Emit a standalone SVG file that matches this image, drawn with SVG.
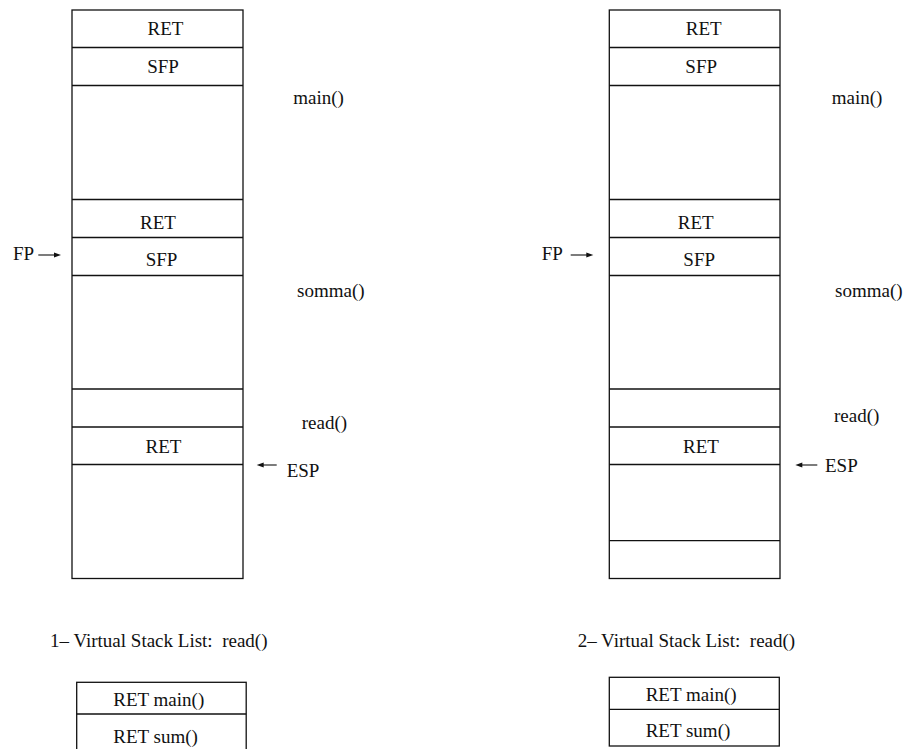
<svg xmlns="http://www.w3.org/2000/svg" width="904" height="749" viewBox="0 0 904 749">
  <style>
    .box { fill: none; stroke: #111; stroke-width: 1.3; }
    .sep { stroke: #111; stroke-width: 1.3; }
    .ptr { stroke: #111; stroke-width: 1.1; fill: none; }
    .head { fill: #111; }
    text { font-family: 'Liberation Serif', serif; font-size: 19px; fill: #111; white-space: pre; }
    .c { text-anchor: middle; }
  </style>
  <rect width="904" height="749" fill="#fff"/>

  <!-- Stack 1 -->
  <g id="stack1">
    <rect class="box" x="72" y="10" width="171" height="568.5"/>
    <line class="sep" x1="72" y1="47.5" x2="243" y2="47.5"/>
    <line class="sep" x1="72" y1="85.5" x2="243" y2="85.5"/>
    <line class="sep" x1="72" y1="199.5" x2="243" y2="199.5"/>
    <line class="sep" x1="72" y1="237.5" x2="243" y2="237.5"/>
    <line class="sep" x1="72" y1="275.5" x2="243" y2="275.5"/>
    <line class="sep" x1="72" y1="389" x2="243" y2="389"/>
    <line class="sep" x1="72" y1="427" x2="243" y2="427"/>
    <line class="sep" x1="72" y1="464.5" x2="243" y2="464.5"/>
    <text class="c" x="165.5" y="34.5">RET</text>
    <text class="c" x="163" y="72.5">SFP</text>
    <text class="c" x="158" y="228.5">RET</text>
    <text class="c" x="161.5" y="265.5">SFP</text>
    <text class="c" x="163.5" y="452.5">RET</text>
    <text x="293.3" y="104">main()</text>
    <text x="297" y="296.5">somma()</text>
    <text x="301.7" y="429">read()</text>
    <text x="13" y="260">FP</text>
    <text x="286.7" y="476.5">ESP</text>
  </g>

  <!-- Stack 2 -->
  <g id="stack2">
    <rect class="box" x="609.3" y="10" width="170.7" height="568.5"/>
    <line class="sep" x1="609.3" y1="47.5" x2="780" y2="47.5"/>
    <line class="sep" x1="609.3" y1="85.5" x2="780" y2="85.5"/>
    <line class="sep" x1="609.3" y1="199.5" x2="780" y2="199.5"/>
    <line class="sep" x1="609.3" y1="237.5" x2="780" y2="237.5"/>
    <line class="sep" x1="609.3" y1="275.5" x2="780" y2="275.5"/>
    <line class="sep" x1="609.3" y1="389" x2="780" y2="389"/>
    <line class="sep" x1="609.3" y1="427" x2="780" y2="427"/>
    <line class="sep" x1="609.3" y1="464.5" x2="780" y2="464.5"/>
    <line class="sep" x1="609.3" y1="540.7" x2="780" y2="540.7"/>
    <text class="c" x="703.7" y="34.5">RET</text>
    <text class="c" x="701.2" y="72.5">SFP</text>
    <text class="c" x="695.8" y="228.5">RET</text>
    <text class="c" x="699.2" y="265.5">SFP</text>
    <text class="c" x="701" y="452.5">RET</text>
    <text x="831.7" y="104">main()</text>
    <text x="835" y="296.5">somma()</text>
    <text x="834" y="421.5">read()</text>
    <text x="541.7" y="260">FP</text>
    <text x="825" y="471.5">ESP</text>
  </g>

  <!-- Virtual stack lists -->
  <g id="list1">
    <text x="50" y="646.5" xml:space="preserve">1– Virtual Stack List:  read()</text>
    <rect class="box" x="76.7" y="682.3" width="169.5" height="80"/>
    <line class="sep" x1="76.7" y1="714" x2="246.2" y2="714"/>
    <text x="113.3" y="706">RET main()</text>
    <text x="113.3" y="743.3">RET sum()</text>
  </g>
  <g id="list2">
    <text x="577.7" y="646.5" xml:space="preserve">2– Virtual Stack List:  read()</text>
    <rect class="box" x="609.3" y="677.3" width="170" height="68.7"/>
    <line class="sep" x1="609.3" y1="709.3" x2="779.3" y2="709.3"/>
    <text x="645.7" y="701">RET main()</text>
    <text x="645.7" y="737.3">RET sum()</text>
  </g>

  <!-- Pointer arrows -->
  <g id="connectors">
    <line class="ptr" x1="38.3" y1="255" x2="56" y2="255"/>
    <polygon class="head" points="61,255 54,252.6 54,257.4"/>
    <line class="ptr" x1="570.7" y1="255" x2="588.5" y2="255"/>
    <polygon class="head" points="593.3,255 586.3,252.6 586.3,257.4"/>
    <line class="ptr" x1="276.7" y1="465" x2="261.5" y2="465"/>
    <polygon class="head" points="256.7,465 263.7,462.6 263.7,467.4"/>
    <line class="ptr" x1="817.3" y1="465" x2="800" y2="465"/>
    <polygon class="head" points="795.3,465 802.3,462.6 802.3,467.4"/>
  </g>
</svg>
